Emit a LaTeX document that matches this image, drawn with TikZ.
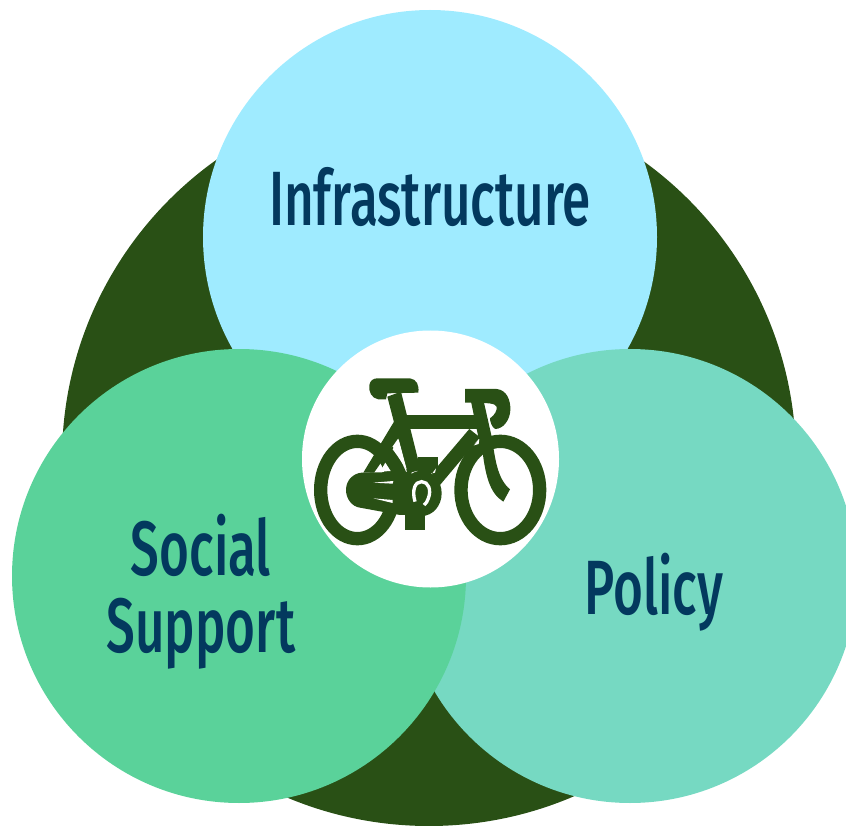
\documentclass[tikz,border=0pt]{standalone}
\usepackage{fontspec}
\newfontfamily\labelfont[FakeStretch=0.665,UprightFont={* Medium}]{Fira Sans}
\definecolor{darkgreen}{HTML}{295015}
\definecolor{skyfill}{HTML}{9FEBFF}
\definecolor{socialfill}{HTML}{5AD29A}
\definecolor{policyfill}{HTML}{76D9C2}
\definecolor{labelblue}{HTML}{03395E}
\tikzset{
  disc/.style={circle,inner sep=0pt,outer sep=0pt,minimum size=#1},
  lab/.style={anchor=base,inner sep=0pt,text=labelblue,font=\labelfont\fontsize{77}{77}\selectfont}
}
\begin{document}
\begin{tikzpicture}[x=1pt,y=-1pt]
\useasboundingbox (0,0) rectangle (846,826);
\clip (0,0) rectangle (846,826);
\node[disc=734pt,fill=darkgreen] (base) at (429,459) {};
\node[disc=454pt,fill=skyfill] (infra) at (430,237) {};
\node[disc=454pt,fill=policyfill] (policy) at (630,576) {};
\node[disc=454pt,fill=socialfill] (social) at (239,576) {};
\node[disc=257pt,fill=white] (hub) at (430.5,459) {};
\node[lab] (tinfra) at (430,226) {Infrastructure};
\node[lab] (tsocial) at (201,575) {Social};
\node[lab] (tsupport) at (201,652) {Support};
\node[lab] (tpolicy) at (654,614) {Policy};
\begin{scope}[shift={(300,330)},x=1pt/3,y=-1pt/3,darkgreen]
  % wheels
  \draw[darkgreen,line width=40pt/3] (172,480) ellipse [x radius=110,y radius=146];
  \draw[darkgreen,line width=40pt/3] (601,480) ellipse [x radius=118,y radius=146];
  % saddle
  \fill (232,145) -- (330,145) .. controls (350,148) and (358,165) .. (355,188) -- (262,190) -- (258,208) -- (235,208) .. controls (215,205) and (205,185) .. (208,165) .. controls (210,152) and (220,145) .. (232,145) -- cycle;
  % seat tube
  \fill (262,200) -- (303,185) -- (362,420) -- (322,430) -- cycle;
  % top tube
  \fill (285,255) -- (530,255) -- (530,297) -- (285,297) -- cycle;
  % down tube
  \fill (508,297) -- (540,322) -- (420,465) -- (395,430) -- cycle;
  % head tube
  \fill (510,200) -- (548,200) -- (575,320) -- (540,345) -- cycle;
  % handlebar
  \fill (495,177) -- (590,177) .. controls (620,180) and (632,210) .. (631,240) .. controls (630,270) and (610,297) .. (585,297) .. controls (575,290) and (570,275) .. (570,265) .. controls (585,255) and (592,240) .. (590,230) .. controls (585,220) and (570,218) .. (495,218) -- cycle;
  % fork
  \fill (545,340) -- (575,320) .. controls (585,380) and (590,445) .. (630,478) -- (610,515) .. controls (570,490) and (555,440) .. (545,340) -- cycle;
  % seat stay
  \fill (282,275) -- (305,310) -- (222,428) -- (190,428) -- cycle;
  % arc beside the seat tube
  \fill (278,350) .. controls (300,385) and (315,415) .. (325,445) -- (285,445) .. controls (285,410) and (270,385) .. (255,365) -- cycle;
  % chain
  \fill (185,428) -- (335,425) -- (335,555) -- (300,555) -- (180,533) .. controls (155,530) and (138,505) .. (138,480) .. controls (138,450) and (160,430) .. (185,428) -- cycle;
  % chainring
  \fill (365,490) ellipse [x radius=60,y radius=68];
  % pedals
  \fill (355,380) -- (415,380) -- (415,430) -- (355,430) -- cycle;
  \fill (315,545) -- (375,545) -- (375,600) -- (315,600) -- cycle;
  % white details
  \fill[white] (240,425) -- (256,398) -- (272,423) -- cycle;
  \fill[white] (220,458) -- (280,453) -- (278,461) -- cycle;
  \fill[white] (220,505) -- (278,510) -- (278,519) -- cycle;
  \fill[white] (397,430) -- (408,415) -- (405,428) -- cycle;
  \fill[white] (522,346) -- (538,328) -- (536,342) -- cycle;
  \fill[white] (296,328) -- (278,358) .. controls (295,380) and (310,405) .. (320,418) -- cycle;
  \draw[white,line width=10pt/3] (345,515) .. controls (335,480) and (345,455) .. (365,455) .. controls (385,455) and (395,480) .. (385,505) .. controls (382,515) and (378,520) .. (372,525);
\end{scope}
\end{tikzpicture}
\end{document}
